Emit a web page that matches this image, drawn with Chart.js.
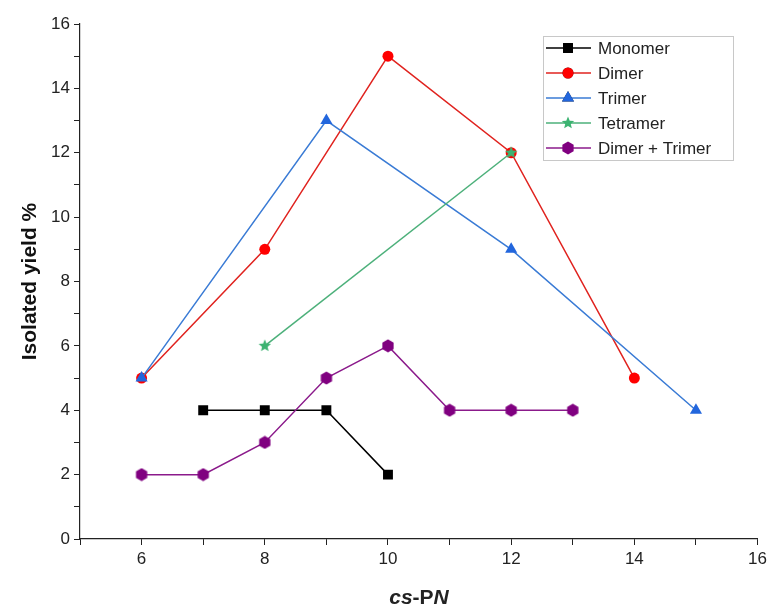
<!DOCTYPE html>
<html>
<head>
<meta charset="utf-8">
<script src="https://cdn.jsdelivr.net/npm/chart.js@4/dist/chart.umd.min.js"></script>
<style>
  html, body { margin:0; padding:0; background:#fff; }
  #wrap { width:771px; height:612px; }
</style>
</head>
<body>
<div id="wrap"><canvas id="yieldChart" width="771" height="612"></canvas></div>
<script>
// data
const seriesNames = ["Monomer", "Dimer", "Trimer", "Tetramer", "Dimer + Trimer"];
const monomerX = [7, 8, 9, 10];
const monomerY = [4, 4, 4, 2];
const dimerX = [6, 8, 10, 12, 14];
const dimerY = [5, 9, 15, 12, 5];
const trimerX = [6, 9, 12, 15];
const trimerY = [5, 13, 9, 4];
const tetramerX = [8, 12];
const tetramerY = [6, 12];
const dimTriX = [6, 7, 8, 9, 10, 11, 12, 13];
const dimTriY = [2, 2, 3, 5, 6, 4, 4, 4];
const xTicks = [6, 8, 10, 12, 14, 16];
const yTicks = [0, 2, 4, 6, 8, 10, 12, 14, 16];

const FONT = "'Liberation Sans', Arial, sans-serif";

function makeShape(kind, size, color){
    const c = document.createElement("canvas");
    c.width = size; c.height = size;
    const g = c.getContext("2d");
    const cx = size/2, cy = size/2, r = size/2 - 0.5;
    g.fillStyle = color;
    g.beginPath();
    if(kind === "star"){
        for(let i=0;i<10;i++){
            let rr = i%2 ? r*0.45 : r;
            let a = -Math.PI/2 + i*Math.PI/5;
            g.lineTo(cx + rr*Math.cos(a), cy + rr*Math.sin(a));
        }
    } else {
        for(let i=0;i<6;i++){
            let a = -Math.PI/2 + i*Math.PI/3;
            g.lineTo(cx + r*Math.cos(a), cy + r*Math.sin(a));
        }
    }
    g.closePath();
    g.fill();
    return c;
}
const starImg = makeShape("star", 14, "#3cb371");
const hexImg = makeShape("hex", 14, "#800080");

function pts(xs, ys){ return xs.map((x,i)=>({x:x, y:ys[i]})); }

const styles = [
    {line:"#000000", fill:"#000000", pointStyle:"rect", radius:7},
    {line:"#e0231f", fill:"#ff0000", pointStyle:"circle", radius:5.5},
    {line:"#3a7bd5", fill:"#2266dd", pointStyle:"triangle", radius:7},
    {line:"#4cb07a", fill:"#3cb371", pointStyle:starImg, radius:7},
    {line:"#8b1a8b", fill:"#800080", pointStyle:hexImg, radius:7}
];
const allData = [pts(monomerX,monomerY), pts(dimerX,dimerY), pts(trimerX,trimerY), pts(tetramerX,tetramerY), pts(dimTriX,dimTriY)];

const datasets = seriesNames.map((name,i)=>({
    label: name,
    data: allData[i],
    borderColor: styles[i].line,
    backgroundColor: styles[i].fill,
    pointBackgroundColor: styles[i].fill,
    pointBorderColor: styles[i].fill,
    pointStyle: styles[i].pointStyle,
    pointRadius: styles[i].radius,
    pointBorderWidth: 0,
    borderWidth: 1.5,
    showLine: true,
    tension: 0,
    order: 5 - i
}));

// legend box drawn inside the plot, like the original
const boxLegend = {
    id: "boxLegend",
    afterDraw(chart){
        const ctx = chart.ctx;
        ctx.save();
        ctx.strokeStyle = "#c8c8c8";
        ctx.lineWidth = 1;
        ctx.strokeRect(543.5, 36.5, 190, 124);
        ctx.font = "17px " + FONT;
        ctx.textBaseline = "middle";
        ctx.fillStyle = "#222";
        seriesNames.forEach((name,i)=>{
            const y = 48 + i*25;
            ctx.strokeStyle = styles[i].line;
            ctx.lineWidth = 1.5;
            ctx.beginPath(); ctx.moveTo(546, y); ctx.lineTo(591, y); ctx.stroke();
            Chart.helpers.drawPoint(ctx, {
                pointStyle: styles[i].pointStyle, radius: styles[i].radius, borderWidth: 0, rotation: 0
            }, 568, y);
            ctx.fillStyle = styles[i].fill;
            ctx.fill();
            ctx.fillStyle = "#222";
            ctx.fillText(name, 598, y + 1);
        });
        // x axis title with italic parts
        const parts = [["cs", "italic bold"], ["-P", "bold"], ["N", "italic bold"]];
        ctx.textBaseline = "alphabetic";
        let w = 0;
        parts.forEach(p=>{ ctx.font = p[1] + " 21px " + FONT; w += ctx.measureText(p[0]).width; });
        let x = 419 - w/2;
        parts.forEach(p=>{
            ctx.font = p[1] + " 21px " + FONT;
            ctx.fillText(p[0], x, 604);
            x += ctx.measureText(p[0]).width;
        });
        ctx.restore();
    }
};

new Chart(document.getElementById("yieldChart").getContext("2d"), {
    type: "scatter",
    data: { datasets: datasets },
    options: {
        responsive: false,
        animation: false,
        layout: { padding: { top: 24, right: 10, left: 0, bottom: 0 } },
        plugins: { legend: { display: false }, tooltip: { enabled: false } },
        scales: {
            x: {
                type: "linear", min: 5, max: 16,
                afterFit(s){ s.height = 73; },
                ticks: {
                    stepSize: 1, autoSkip: false, maxRotation: 0, padding: 4,
                    color: "#222", font: { size: 17, family: FONT },
                    callback: v => xTicks.includes(v) ? String(v) : ""
                },
                grid: { drawOnChartArea: false, drawTicks: true, tickLength: 6, color: "#222", tickColor: "#222" },
                border: { color: "#222", width: 1.2 }
            },
            y: {
                min: 0, max: 16,
                afterFit(s){ s.width = 80; },
                ticks: {
                    stepSize: 1, autoSkip: false, padding: 4,
                    color: "#222", font: { size: 17, family: FONT },
                    callback: v => yTicks.includes(v) ? String(v) : ""
                },
                title: { display: true, text: "Isolated yield %", color: "#111", font: { size: 21, weight: "bold", family: FONT }, padding: { top: 18, bottom: 0 } },
                grid: { drawOnChartArea: false, drawTicks: true, tickLength: 6, color: "#222", tickColor: "#222" },
                border: { color: "#222", width: 1.2 }
            }
        }
    },
    plugins: [boxLegend]
});
</script>
</body>
</html>
